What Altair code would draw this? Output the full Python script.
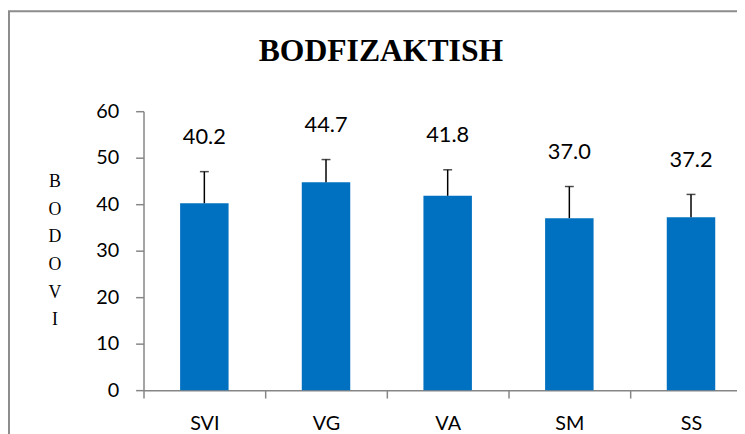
import altair as alt
import pandas as pd

categories = ["SVI", "VG", "VA", "SM", "SS"]
means = [40.2, 44.7, 41.8, 37.0, 37.2]
errors = [6.8, 4.9, 5.6, 6.8, 4.9]
y_ticks = [0, 10, 20, 30, 40, 50, 60]
title_text = "BODFIZAKTISH"
y_title = ["B", "O", "D", "O", "V", "I"]

df = pd.DataFrame({"group": categories, "mean": means, "err": errors})
df["top"] = df["mean"] + df["err"]

AXIS_GRAY = "#868686"
NUM_FONT = "Lato"

x_enc = alt.X(
    "group:N",
    sort=categories,
    scale=alt.Scale(range=[0, 615], paddingInner=0, paddingOuter=0),
    axis=alt.Axis(
        title=None,
        tickBand="extent",
        labelAngle=0,
        labelFont=NUM_FONT,
        labelFontSize=20,
        labelColor="black",
        labelPadding=16,
        tickSize=8,
        tickColor=AXIS_GRAY,
        domainColor=AXIS_GRAY,
        tickWidth=1.5,
        domainWidth=1.5,
        grid=False,
    ),
)

y_scale = alt.Scale(domain=[0, 60], nice=False)
y_axis = alt.Axis(
    values=y_ticks,
    grid=False,
    labelFont=NUM_FONT,
    labelFontSize=20,
    labelColor="black",
    labelPadding=17,
    tickSize=8,
    tickColor=AXIS_GRAY,
    domainColor=AXIS_GRAY,
    tickWidth=1.5,
    domainWidth=1.5,
    title=y_title,
    titleAngle=0,
    titleX=-90,
    titleY=71,
    titleAlign="center",
    titleBaseline="middle",
    titleFont="Liberation Serif",
    titleFontSize=18,
    titleFontWeight="normal",
    titleLineHeight=28,
    titleColor="black",
)

base = alt.Chart(df)

bars = base.mark_bar(color="#0070C0", size=49).encode(
    x=x_enc,
    y=alt.Y("mean:Q", scale=y_scale, axis=y_axis),
)

err_rule = base.mark_rule(color="black", strokeWidth=1.5).encode(
    x=x_enc,
    y=alt.Y("mean:Q", scale=y_scale, axis=y_axis),
    y2="top:Q",
)

err_cap = base.mark_tick(color="black", size=9, thickness=1.5).encode(
    x=x_enc,
    y=alt.Y("top:Q", scale=y_scale, axis=y_axis),
)

labels = base.mark_text(
    dy=-35, fontSize=22, font=NUM_FONT, color="black", baseline="middle"
).encode(
    x=x_enc,
    y=alt.Y("top:Q", scale=y_scale, axis=y_axis),
    text=alt.Text("mean:Q", format=".1f"),
)

frame = alt.Chart(alt.Data(values=[{}])).mark_rect(
    filled=False, stroke="#8c8c8c", strokeWidth=2
).encode(
    x=alt.value(-136), x2=alt.value(700), y=alt.value(-101), y2=alt.value(400)
)

chart = alt.layer(frame, bars, err_rule, err_cap, labels).properties(
    width=600,
    height=282,
    padding={"left": 137, "top": 102, "right": 0, "bottom": 42},
    autosize=alt.AutoSizeParams(type="none"),
    title=alt.TitleParams(
        title_text,
        font="Liberation Serif",
        fontSize=32,
        fontWeight="bold",
        color="black",
        anchor="middle",
        baseline="alphabetic",
        offset=0,
        dx=-60,
        dy=83,
    ),
).configure_view(stroke=None)

chart.save("out.html", embed_options={"renderer": "svg", "actions": False})
